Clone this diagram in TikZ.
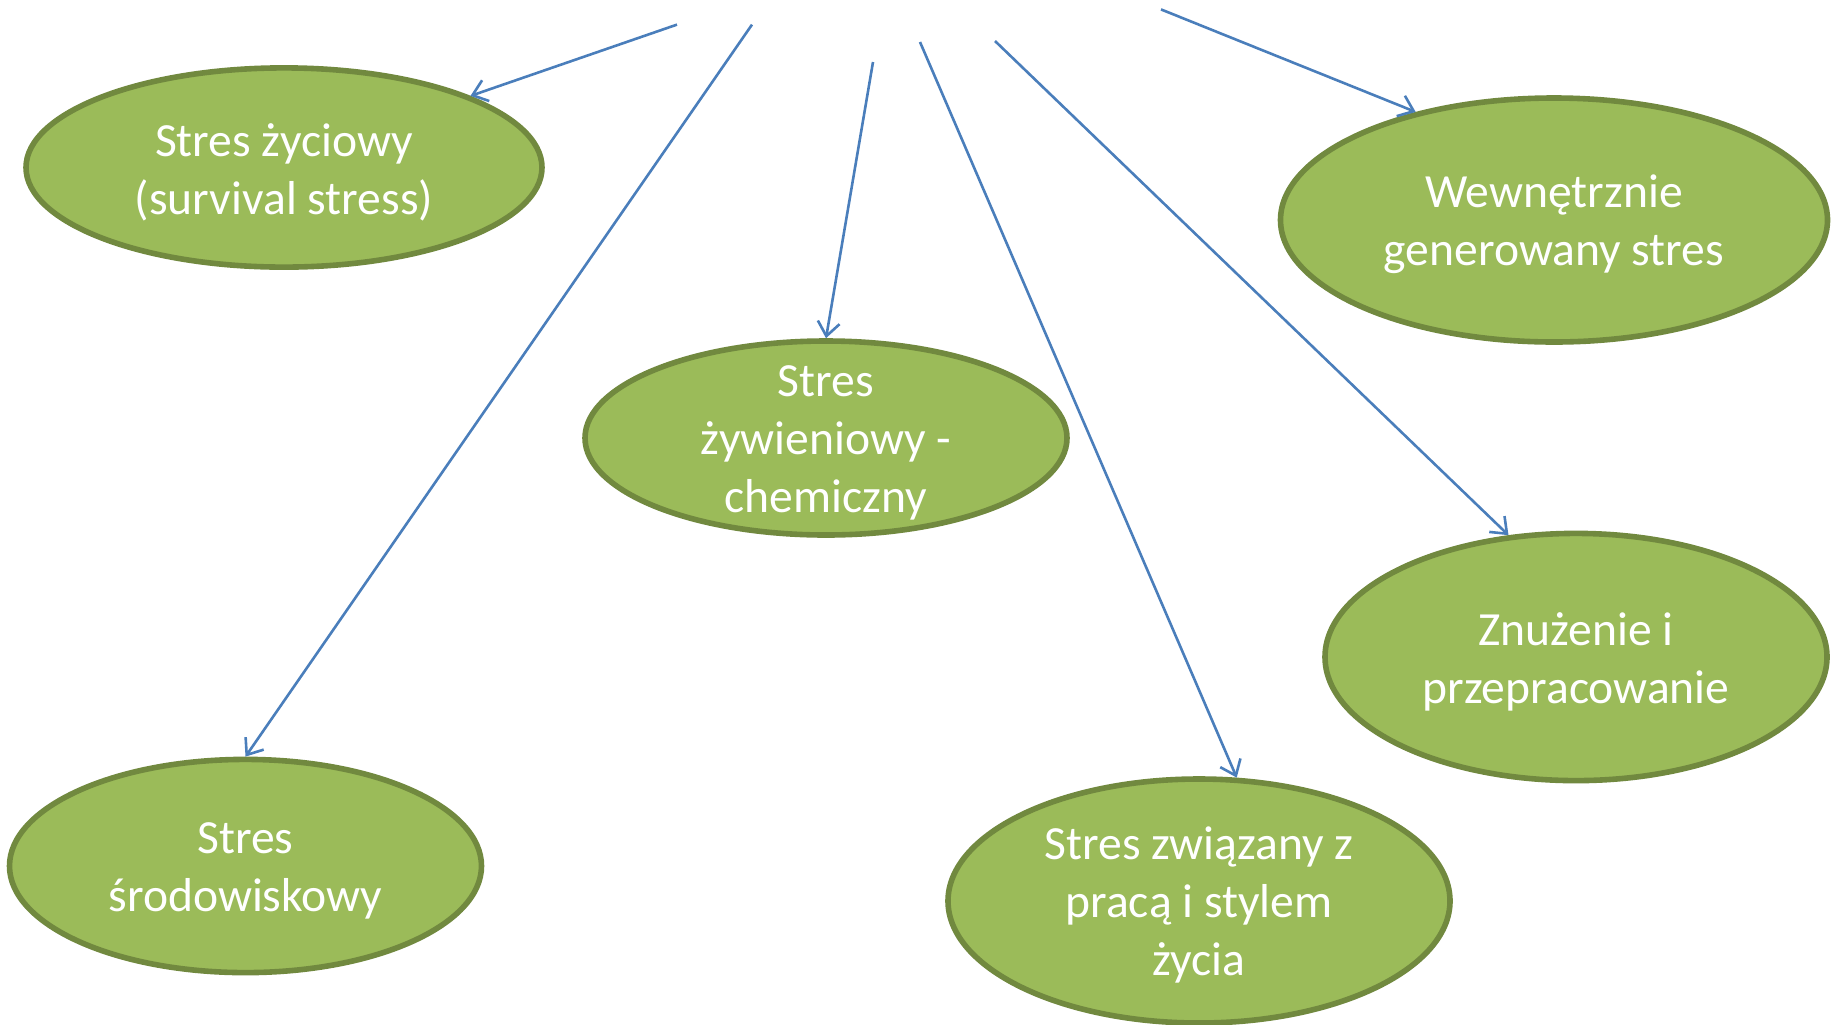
\documentclass[tikz,border=0pt]{standalone}
\usepackage{fontspec}
\setmainfont{Carlito}
\usetikzlibrary{shapes.geometric,arrows.meta}
\definecolor{stresfill}{HTML}{9BBB59}
\definecolor{stresborder}{HTML}{71893F}
\definecolor{arrowblue}{HTML}{4A7EBB}
\begin{document}
\begin{tikzpicture}[x=0.5pt, y=-0.5pt,
  stres/.style={draw=stresborder, fill=stresfill, ellipse, line width=2.8pt, inner sep=0pt},
  stresText/.style={text=white, align=center, yshift=-2.2pt, font=\fontsize{23.8}{29}\selectfont},
  arr/.style={draw=arrowblue, line width=1.3pt, -{Straight Barb[length=7pt, width=11pt]}}]
  \useasboundingbox (0,0) rectangle (1837,1024);

  \node[stres, minimum width=258pt, minimum height=99.6pt, label={[stresText]center:Stres życiowy\\(survival stress)}] (zyciowy) at (284,167.5) {};
  \node[stres, minimum width=241pt, minimum height=97pt, label={[stresText]center:Stres\\żywieniowy -\\chemiczny}] (zywieniowy) at (826,438) {};
  \node[stres, minimum width=273.5pt, minimum height=122pt, label={[stresText]center:Wewnętrznie\\generowany stres}] (wewnetrzny) at (1554,220) {};
  \node[stres, minimum width=251pt, minimum height=123.6pt, label={[stresText]center:Znużenie i\\przepracowanie}] (znuzenie) at (1576,657) {};
  \node[stres, minimum width=236pt, minimum height=106.6pt, label={[stresText]center:Stres\\środowiskowy}] (srodowiskowy) at (245.5,866) {};
  \node[stres, minimum width=251pt, minimum height=122pt, label={[stresText]center:Stres związany z\\pracą i stylem\\życia}] (praca) at (1199,901) {};

  \coordinate (s1) at (677,24.6);
  \coordinate (s2) at (752,24.6);
  \coordinate (s3) at (873,62);
  \coordinate (s4) at (920,42);
  \coordinate (s5) at (995,41);
  \coordinate (s6) at (1161,9.4);

  \draw[arr] (s1) -- (zyciowy.21);
  \draw[arr] (s2) -- (srodowiskowy.90);
  \draw[arr] (s3) -- (zywieniowy.90);
  \draw[arr] (s4) -- (praca.73);
  \draw[arr] (s5) -- (znuzenie.119);
  \draw[arr] (s6) -- (wewnetrzny.142);
\end{tikzpicture}
\end{document}
